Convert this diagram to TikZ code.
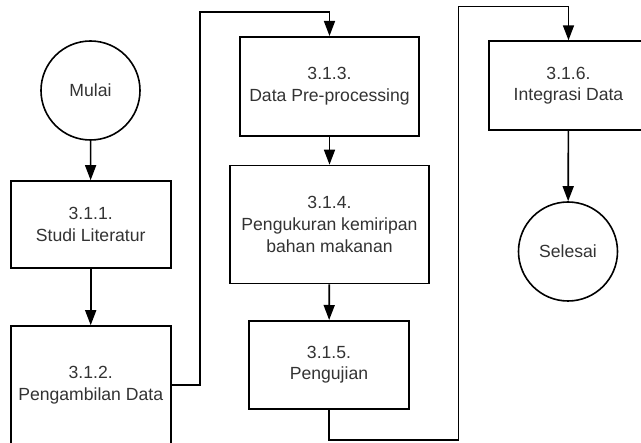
\documentclass[tikz,border=0pt]{standalone}
\usepackage{fontspec}
\setmainfont{Liberation Sans}
\usetikzlibrary{arrows.meta}
\definecolor{txt}{HTML}{333333}
\begin{document}
\begin{tikzpicture}[x=1pt,y=-1pt,
  line width=1.6pt,
  font=\fontsize{17.6}{21.6}\selectfont,
  proc/.style={draw=black, fill=white, rectangle, inner sep=0pt, align=center, text=txt},
  term/.style={draw=black, fill=white, circle, inner sep=0pt, minimum size=99pt, text=txt},
  arr/.style={-{Triangle[length=15pt,width=11pt]}}]
\useasboundingbox (0,0) rectangle (641,443);
\clip (0,0) rectangle (641,443);
\node[term] (mulai) at (90.5,90.5) {Mulai};
\node[proc, minimum width=160pt, minimum height=87pt] (b1) at (90.7,224.5) {3.1.1.\\Studi Literatur};
\node[proc, minimum width=160pt, minimum height=118pt] (b2) at (90.7,385) {3.1.2.\\Pengambilan Data};
\node[proc, minimum width=179pt, minimum height=99pt] (b3) at (329.5,86.3) {3.1.3.\\Data Pre-processing};
\node[proc, minimum width=199pt, minimum height=118pt] (b4) at (329.5,224.5) {3.1.4.\\Pengukuran kemiripan\\bahan makanan};
\node[proc, minimum width=160pt, minimum height=88pt] (b5) at (329,364.8) {3.1.5.\\Pengujian};
\node[proc, minimum width=159pt, minimum height=89pt] (b6) at (568.5,85.6) {3.1.6.\\Integrasi Data};
\node[term] (selesai) at (568,251.5) {Selesai};
\coordinate (c1) at (200,12);
\coordinate (c2) at (458.5,440);
\coordinate (c3) at (458.5,6.7);
\draw[arr] (mulai) -- (b1);
\draw[arr] (b1) -- (b2);
\draw[arr] (b2.east) -| (c1) -| (b3.north);
\draw[arr] (b3) -- (b4);
\draw[arr] (b4) -- (b5);
\draw[arr] (b5.south) |- (c2) -- (c3) -| (b6.north);
\draw[arr] (b6) -- (selesai);
\end{tikzpicture}
\end{document}
